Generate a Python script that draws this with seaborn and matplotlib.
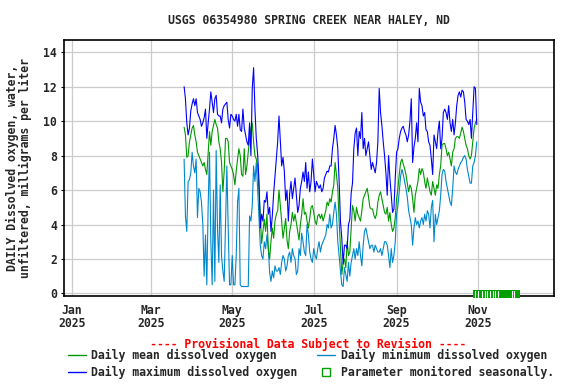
import numpy as np
import pandas as pd
import matplotlib
matplotlib.use("Agg")
import matplotlib.pyplot as plt
import matplotlib.transforms as mtransforms
from matplotlib.lines import Line2D
import seaborn as sns

# ---------------- data ----------------
title = "USGS 06354980 SPRING CREEK NEAR HALEY, ND"
ylabel = "DAILY Dissolved oxygen, water,\nunfiltered, milligrams per liter"
provisional = "---- Provisional Data Subject to Revision ----"

first_day = "2025-03-26"

daily_max = [
    12.0, 11.3, 9.9, 9.2, 9.6, 10.6, 11.0, 11.3, 10.9, 11.3,
    10.5, 10.3, 10.1, 9.7, 9.9, 10.2, 10.7, 9.0, 9.9, 10.7,
    11.7, 11.1, 10.5, 11.3, 11.5, 10.4, 10.3, 10.3, 9.9, 10.7,
    10.9, 11.0, 11.1, 10.1, 9.6, 10.4, 10.3, 10.1, 10.0, 10.4,
    9.7, 10.4, 9.5, 9.4, 10.7, 9.6, 9.2, 8.8, 8.6, 9.9,
    8.0, 11.9, 13.1, 10.7, 9.0, 8.1, 6.6, 3.8, 4.6, 4.2,
    5.4, 5.3, 5.9, 4.6, 5.0, 3.6, 4.5, 5.8, 6.8, 7.8,
    8.8, 10.3, 8.8, 7.4, 7.9, 7.1, 5.4, 6.0, 4.2, 5.8,
    6.5, 5.5, 6.1, 6.7, 5.7, 4.7, 5.1, 6.1, 6.5, 7.05,
    6.5, 7.6, 6.1, 7.05, 5.9, 6.5, 7.8, 6.9, 5.9, 6.5,
    6.3, 6.1, 6.3, 5.9, 6.1, 6.7, 6.9, 7.1, 7.05, 7.4,
    7.4, 8.4, 9.0, 9.75, 9.2, 8.4, 6.5, 4.2, 3.2, 1.7,
    2.8, 2.8, 2.6, 4.0, 4.3, 5.8, 6.4, 8.4, 9.3, 9.6,
    8.0, 9.4, 9.0, 10.5, 8.4, 9.0, 8.0, 8.4, 8.8, 8.0,
    7.2, 7.6, 7.3, 7.0, 7.6, 8.8, 11.9, 10.5, 9.75, 8.8,
    8.0, 7.0, 5.7, 8.0, 6.7, 5.7, 4.7, 4.9, 6.7, 8.2,
    8.4, 9.0, 9.4, 9.6, 9.7, 9.4, 9.2, 8.8, 9.2, 10.0,
    11.3, 7.6, 8.5, 9.0, 9.9, 8.8, 11.9, 11.1, 10.9, 10.3,
    10.5, 9.5, 9.4, 8.8, 8.6, 7.8, 6.9, 9.2, 8.8, 8.4,
    9.4, 10.0, 8.4, 9.0, 10.5, 10.7, 10.5, 10.1, 10.9, 9.9,
    9.4, 10.1, 9.2, 9.9, 10.9, 11.5, 11.7, 11.4, 11.8, 11.7,
    11.1, 10.1, 10.0, 9.8, 10.1, 9.0, 10.5, 12.0, 11.9, 9.8,
]

daily_mean = [
    9.65, 9.2, 7.9, 8.0, 8.8, 9.2, 9.6, 9.75, 9.2, 8.8,
    8.2, 8.0, 7.8, 7.6, 7.4, 7.6, 7.2, 6.9, 8.2, 9.4,
    8.6, 9.4, 9.75, 10.1, 9.8, 9.6, 8.8, 8.4, 7.6, 5.9,
    7.1, 9.0, 9.0, 8.8, 7.6, 7.4, 7.2, 6.9, 6.3, 7.1,
    7.8, 8.4, 8.0, 6.9, 6.8, 8.4, 6.9, 7.4, 8.2, 9.0,
    9.6, 9.9, 8.8, 8.0, 7.8, 7.4, 6.1, 4.5, 2.9, 3.6,
    4.3, 3.6, 4.6, 2.6, 2.0, 3.0, 3.8, 3.2, 4.2, 4.6,
    4.8, 6.0, 5.1, 4.2, 3.2, 3.8, 4.35, 3.1, 2.6, 3.6,
    4.0, 4.7, 4.2, 4.6, 4.1, 3.6, 3.1, 4.0, 4.6, 5.5,
    4.6, 4.7, 4.2, 3.8, 4.35, 5.0, 5.1, 4.7, 4.2, 4.0,
    4.5, 4.6, 4.35, 4.6, 4.2, 4.5, 4.8, 5.3, 5.1, 5.5,
    5.3, 5.9, 6.3, 7.6, 6.9, 6.1, 4.2, 2.6, 1.1, 1.8,
    2.0, 1.5, 3.0, 2.2, 2.4, 3.8, 5.1, 4.8, 4.2, 5.0,
    4.6, 4.4, 4.2, 4.8, 5.5, 5.7, 5.9, 6.1, 5.6, 5.0,
    4.9, 4.9, 4.55, 4.35, 4.6, 5.3, 5.7, 5.9, 5.5, 5.1,
    4.7, 4.6, 5.0, 4.2, 4.7, 4.0, 3.6, 3.8, 4.4, 5.5,
    6.1, 6.9, 7.6, 7.8, 7.5, 7.25, 6.9, 6.4, 5.9, 6.3,
    6.1, 5.5, 4.7, 5.7, 6.1, 6.5, 7.25, 6.9, 7.25, 7.05,
    6.5, 6.1, 6.7, 6.3, 5.9, 5.7, 6.5, 6.1, 5.7, 6.3,
    6.1, 6.9, 7.4, 8.6, 8.7, 8.7, 8.4, 8.0, 8.2, 7.8,
    7.4, 8.2, 8.4, 9.0, 9.1, 9.1, 9.0, 9.3, 9.65, 9.4,
    9.0, 8.6, 8.4, 8.0, 7.8, 8.0, 8.8, 9.6, 9.9, 10.1,
]

daily_min = [
    7.8, 4.5, 3.6, 6.5, 6.6, 7.0, 8.2, 7.4, 7.0, 7.8,
    4.4, 6.1, 5.9, 5.3, 4.0, 1.0, 3.4, 0.5, 5.1, 8.2,
    3.0, 0.5, 6.0, 0.7, 8.3, 3.7, 1.8, 6.3, 2.2, 1.3,
    0.7, 4.0, 7.4, 3.8, 0.5, 0.5, 2.2, 0.5, 0.5, 2.2,
    5.3, 6.1, 0.5, 0.4, 0.4, 0.4, 0.4, 0.4, 0.4, 4.5,
    4.2, 5.1, 7.4, 6.5, 7.6, 6.1, 4.4, 2.8, 2.2, 2.0,
    3.0, 2.6, 3.4, 2.6, 1.2, 0.7, 1.3, 0.9, 1.6, 1.3,
    1.3, 1.5, 1.1, 1.8, 2.2, 2.0, 1.3, 1.6, 2.2, 2.4,
    1.8, 2.6, 2.2, 2.0, 1.1, 1.3, 2.6, 2.2, 3.5, 3.0,
    2.4, 2.2, 4.0, 3.4, 2.4, 2.0, 1.8, 2.6, 2.2, 2.0,
    2.6, 3.0, 2.4, 2.8, 3.0, 3.2, 3.4, 4.0, 3.8, 4.6,
    3.8, 4.0, 4.7, 5.3, 4.6, 3.0, 2.2, 1.3, 0.5, 0.4,
    1.5, 1.1, 0.7, 1.8, 1.0, 1.8, 2.2, 2.6, 2.0, 2.6,
    2.2, 3.0, 2.2, 1.6, 2.8, 3.6, 3.8, 3.4, 3.0, 2.6,
    2.8, 2.8, 2.4, 2.8, 2.6, 2.4, 2.4, 2.6, 2.2, 2.6,
    3.0, 3.0, 2.8, 2.2, 1.5, 2.6, 1.8, 2.2, 3.0, 4.6,
    5.1, 5.9, 6.8, 7.2, 6.9, 6.5, 6.1, 5.6, 4.8, 4.4,
    4.0, 2.8, 3.8, 4.4, 4.0, 4.2, 3.8, 4.2, 4.4, 4.0,
    4.6, 4.2, 4.8, 4.6, 3.8, 5.0, 5.4, 3.0, 4.6, 4.0,
    4.4, 4.8, 5.7, 6.9, 7.2, 7.1, 6.5, 6.1, 5.7, 5.3,
    5.1, 6.1, 7.4, 7.05, 6.9, 7.2, 7.4, 7.6, 7.7, 7.9,
    8.0, 7.8, 7.2, 6.8, 6.4, 6.4, 7.4, 7.6, 8.0, 8.8,
]

season_start = "2025-10-28"
season_end = "2025-12-02"
season_marks = ["2025-10-30", "2025-11-01", "2025-11-04", "2025-11-06",
                "2025-11-08", "2025-11-10", "2025-11-12", "2025-11-14",
                "2025-11-16", "2025-11-26", "2025-11-28"]

x_tick_dates = ["2025-01-01", "2025-03-01", "2025-05-01",
                "2025-07-01", "2025-09-01", "2025-11-01"]
x_tick_labels = ["Jan\n2025", "Mar\n2025", "May\n2025",
                 "Jul\n2025", "Sep\n2025", "Nov\n2025"]
y_ticks = [0, 2, 4, 6, 8, 10, 12, 14]

legend_labels = ["Daily mean dissolved oxygen", "Daily maximum dissolved oxygen",
                 "Daily minimum dissolved oxygen", "Parameter monitored seasonally."]

# ---------------- style ----------------
c_mean = "#009900"
c_min = "#0088cc"
c_max = "#0000ff"
c_season = "#00a000"

sns.set_theme(style="white")
plt.rcParams["font.family"] = ["DejaVu Sans Mono"]
plt.rcParams["font.weight"] = "bold"
fs = 8.3

dates = pd.date_range(first_day, periods=len(daily_max), freq="D")
df = pd.DataFrame({"date": dates, "max": daily_max,
                   "mean": daily_mean, "min": daily_min})

fig = plt.figure(figsize=(5.76, 3.84), dpi=100)
W, H = 576, 384
L, R, T, B = 64, 554, 40, 295.5
ax = fig.add_axes([L / W, 1 - B / H, (R - L) / W, (B - T) / H])
ax.set_facecolor("white")

sns.lineplot(data=df, x="date", y="min", ax=ax, color=c_min, lw=0.8, estimator=None)
sns.lineplot(data=df, x="date", y="mean", ax=ax, color=c_mean, lw=0.8, estimator=None)
sns.lineplot(data=df, x="date", y="max", ax=ax, color=c_max, lw=0.8, estimator=None)

ax.set_xlim(pd.Timestamp("2024-12-26 03:00"), pd.Timestamp("2025-12-27 19:00"))
ax.set_ylim(-0.12, 14.71)
ax.set_xticks(pd.to_datetime(x_tick_dates))
ax.set_xticklabels(x_tick_labels, fontsize=fs, fontweight="bold", linespacing=1.05)
ax.set_yticks(y_ticks)
ax.set_yticklabels([str(v) for v in y_ticks], fontsize=fs, fontweight="bold")
ax.tick_params(axis="x", length=0, pad=6)
ax.tick_params(axis="y", length=2, width=0.8, pad=3, left=True, color="black")
ax.set_xlabel("")
ax.set_ylabel("")
ax.grid(True, color="#cccccc", lw=0.9)
ax.set_axisbelow(True)
for s in ax.spines.values():
    s.set_color("black")
    s.set_linewidth(1.2)

# seasonal marker bar along the bottom
trans = mtransforms.blended_transform_factory(ax.transData, ax.transAxes)
ax.axvspan(pd.Timestamp(season_start), pd.Timestamp(season_end), ymin=-0.011, ymax=0.022,
           color=c_season, clip_on=False, zorder=5, lw=0)
for d in season_marks:
    ax.plot([pd.Timestamp(d)] * 2, [-0.005, 0.016], transform=trans, color="white",
            lw=0.8, clip_on=False, zorder=6)

# titles and labels
fig.text(308.5 / W, 1 - 20 / H, title, ha="center", va="center", fontsize=fs,
         fontweight="bold")
fig.text(19 / W, 1 - 168 / H, ylabel, ha="center", va="center", rotation=90,
         fontsize=fs, fontweight="bold", linespacing=1.05, multialignment="center")
fig.text(308.5 / W, 1 - 344 / H, provisional, ha="center", va="center", fontsize=fs,
         fontweight="bold", color="red")

handles = [Line2D([], [], color=c_mean, lw=1.0),
           Line2D([], [], color=c_max, lw=1.0),
           Line2D([], [], color=c_min, lw=1.0),
           Line2D([], [], ls="none", marker="s", markersize=6.2,
                  markerfacecolor="white", markeredgecolor=c_season, markeredgewidth=1.0)]
leg = fig.legend(handles, legend_labels, ncol=2, loc="upper left",
                 bbox_to_anchor=(67.5 / W, 1 - 349 / H), frameon=False,
                 prop={"family": "DejaVu Sans Mono", "weight": "bold", "size": fs},
                 handlelength=1.6, handletextpad=0.45, columnspacing=1.7,
                 labelspacing=0.3, borderaxespad=0, borderpad=0)

fig.savefig("out.png", dpi=100, facecolor="white")
